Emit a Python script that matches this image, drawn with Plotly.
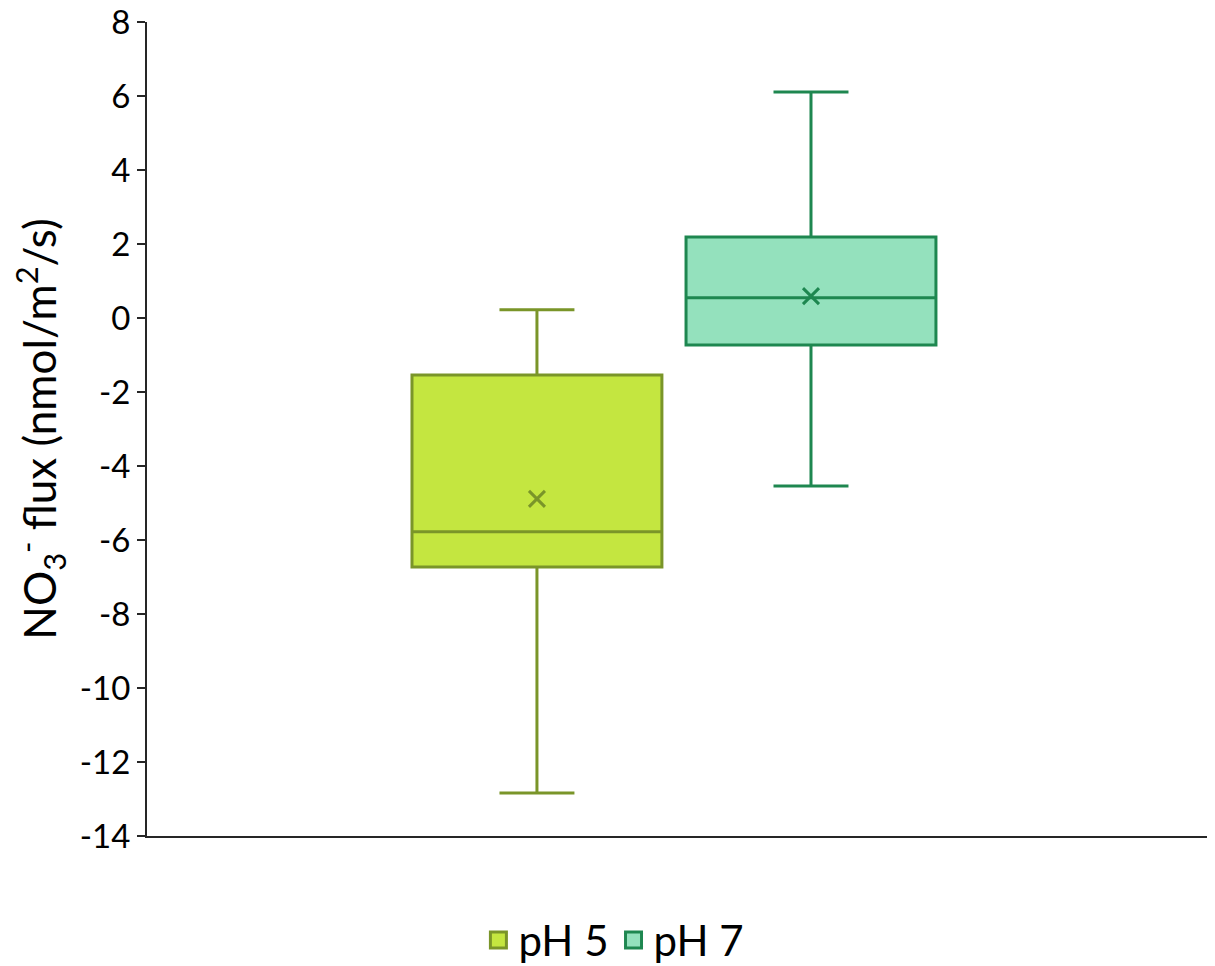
import plotly.graph_objects as go

# Data
groups = ["pH 5", "pH 7"]
q1_vals = [-6.73, -0.73]
median_vals = [-5.78, 0.55]
q3_vals = [-1.54, 2.19]
lower_vals = [-12.84, -4.54]
upper_vals = [0.22, 6.11]
mean_vals = [-4.89, 0.59]

y_tick_vals = [-14, -12, -10, -8, -6, -4, -2, 0, 2, 4, 6, 8]
y_tick_text = ["-14", "-12", "-10", "-8", "-6", "-4", "-2", "0", "2", "4", "6", "8"]

fill_colors = ["#C4E640", "#94E1BD"]
line_colors = ["#7A9529", "#1E8750"]

fig = go.Figure()
for i, g in enumerate(groups):
    fig.add_trace(go.Box(
        name=g,
        x=[g],
        q1=[q1_vals[i]], median=[median_vals[i]], q3=[q3_vals[i]],
        lowerfence=[lower_vals[i]], upperfence=[upper_vals[i]],
        fillcolor=fill_colors[i],
        line=dict(color=line_colors[i], width=3),
        whiskerwidth=0.3,
        width=0.912,
        boxpoints=False,
        showlegend=False,
    ))
for i, g in enumerate(groups):
    fig.add_trace(go.Scatter(
        x=[g], y=[mean_vals[i]], mode="markers",
        marker=dict(symbol="x-thin", size=16,
                    line=dict(color=line_colors[i], width=3),
                    color=line_colors[i]),
        showlegend=False, hoverinfo="y",
    ))
# legend entries
for i, g in enumerate(groups):
    fig.add_trace(go.Scatter(
        x=[None], y=[None], mode="markers", name=g,
        marker=dict(symbol="square", size=20, color=fill_colors[i],
                    line=dict(color=line_colors[i], width=3)),
        showlegend=True,
    ))

font_family = "Lato, 'Open Sans', sans-serif"
fig.update_layout(
    width=1207, height=958,
    paper_bgcolor="white", plot_bgcolor="white",
    margin=dict(l=139, r=2, t=14, b=130, autoexpand=False),
    font=dict(family=font_family, color="#000000"),
    boxmode="overlay",
    showlegend=True,
    legend=dict(orientation="h", x=0.438, xanchor="center",
                yref="container", y=0.027, yanchor="middle",
                font=dict(size=42, family=font_family),
                itemwidth=30, tracegroupgap=0),
    xaxis=dict(
        type="category",
        categoryorder="array", categoryarray=groups,
        range=[-1.423, 2.467],
        showticklabels=False, ticks="",
        showline=True, linecolor="#262626", linewidth=2,
        showgrid=False, zeroline=False,
    ),
    yaxis=dict(
        range=[-14, 8],
        tickmode="array", tickvals=y_tick_vals, ticktext=y_tick_text,
        ticklabeloverflow="allow",
        showline=True, linecolor="#262626", linewidth=2,
        ticks="outside", ticklen=8, tickwidth=2, tickcolor="#262626",
        tickfont=dict(size=33, family=font_family),
        showgrid=False, zeroline=False,
        title=dict(text="NO<sub>3</sub><sup>-</sup> flux (nmol/m<sup>2</sup>/s)",
                   font=dict(size=44, family=font_family), standoff=14),
    ),
)

fig.write_html("out.html")
